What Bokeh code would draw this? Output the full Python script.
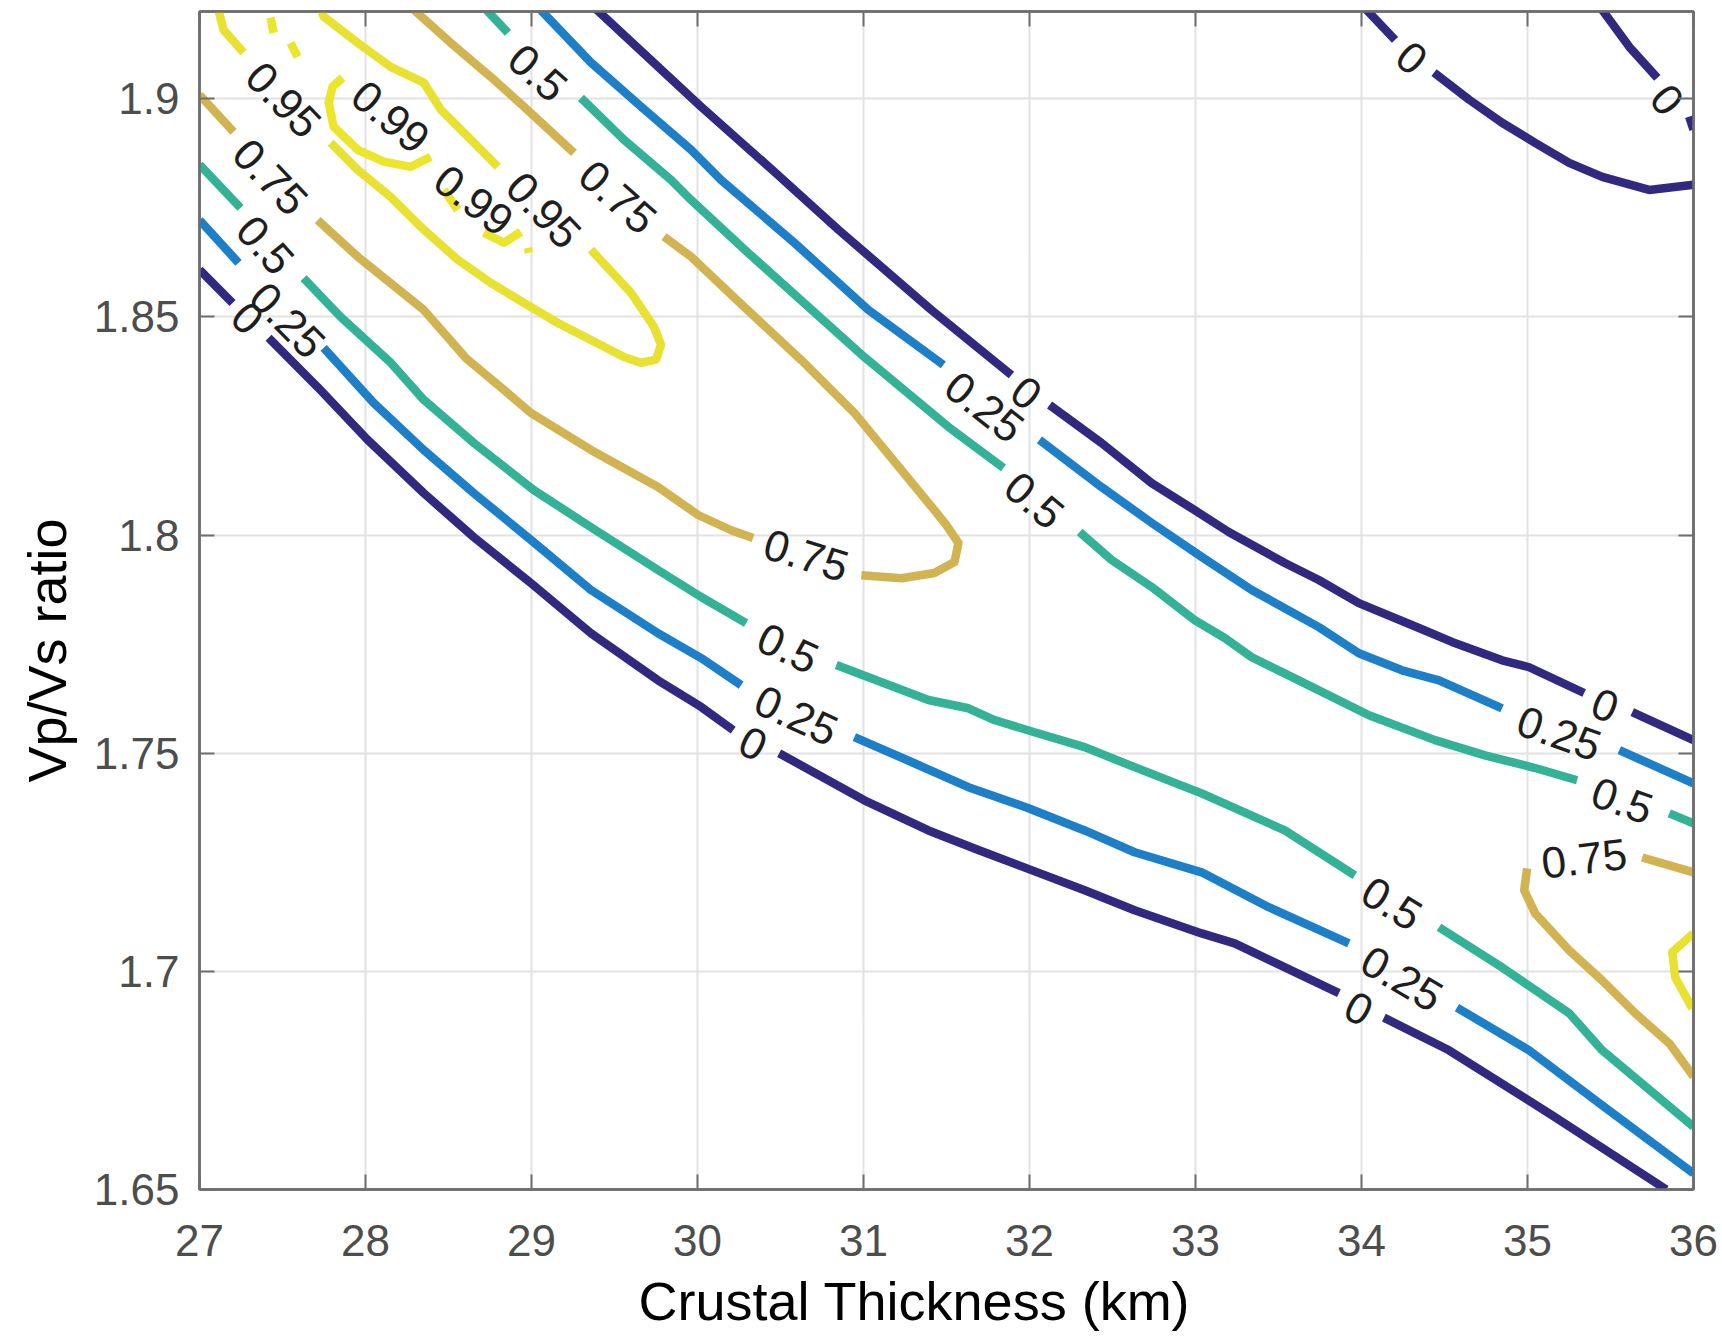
from bokeh.plotting import figure
from bokeh.models import Range1d, FixedTicker, LinearAxis, Title
from bokeh.embed import file_html
from bokeh.resources import INLINE
from bokeh.core.properties import value

# ---------------- data ----------------
x_ticks = [27, 28, 29, 30, 31, 32, 33, 34, 35, 36]
y_ticks = [1.65, 1.7, 1.75, 1.8, 1.85, 1.9]
y_tick_labels = ["1.65", "1.7", "1.75", "1.8", "1.85", "1.9"]
x_title = "Crustal Thickness (km)"
y_title = "Vp/Vs ratio"

levels = [0, 0.25, 0.5, 0.75, 0.95, 0.99]

# contour level 0 (pieces between in-line labels)
c000_x = [
    [27.0, 27.199],
    [27.416, 27.712, 28.013, 28.351, 28.653, 28.996, 29.358, 29.762, 30.022, 30.215],
    [30.492, 31.005, 31.391, 31.692, 32.012, 32.332, 32.633, 33.037, 33.236, 33.864],
    [34.135, 34.527, 35.149, 35.836],
    [29.376, 30.021, 30.462, 30.848, 31.409, 31.891],
    [32.121, 32.434, 32.736, 32.995, 33.200, 33.538, 33.743, 33.984, 34.346, 34.545, 34.847, 35.010, 35.341],
    [35.631, 36.0],
    [34.015, 34.202],
    [34.437, 34.648, 34.847, 35.046, 35.251, 35.450, 35.733, 36.0],
    [35.438, 35.613, 35.782],
    [35.974, 36.0],
]
c000_y = [
    [1.8608, 1.8532],
    [1.8452, 1.8339, 1.8218, 1.8096, 1.7995, 1.7890, 1.7775, 1.7667, 1.7606, 1.7553],
    [1.7500, 1.7392, 1.7323, 1.7278, 1.7232, 1.7186, 1.7140, 1.7087, 1.7064, 1.6950],
    [1.6894, 1.6819, 1.6670, 1.6500],
    [1.9210, 1.8982, 1.8833, 1.8700, 1.8516, 1.8367],
    [1.8298, 1.8211, 1.8119, 1.8057, 1.8007, 1.7936, 1.7897, 1.7844, 1.7787, 1.7755, 1.7713, 1.7697, 1.7638],
    [1.7594, 1.7530],
    [1.9210, 1.9135],
    [1.9060, 1.8998, 1.8945, 1.8899, 1.8853, 1.8821, 1.8791, 1.8803],
    [1.9210, 1.9119, 1.9048],
    [1.8959, 1.8929],
]

# contour level 0.25
c025_x = [
    [27.0, 27.235],
    [27.748, 28.049, 28.351, 28.653, 28.996, 29.358, 29.762, 30.022, 30.263],
    [30.945, 31.306, 31.632, 31.994, 32.332, 32.633, 33.037, 33.441, 33.924],
    [34.575, 35.010, 35.450, 36.0],
    [29.039, 29.358, 29.660, 29.961, 30.142, 30.583, 31.029, 31.481],
    [32.060, 32.434, 32.736, 33.037, 33.339, 33.743, 33.984, 34.244, 34.467, 34.847],
    [35.553, 36.0],
]
c025_y = [
    [1.8722, 1.8624],
    [1.8429, 1.8303, 1.8195, 1.8096, 1.7989, 1.7874, 1.7775, 1.7718, 1.7656],
    [1.7537, 1.7477, 1.7422, 1.7374, 1.7323, 1.7273, 1.7227, 1.7147, 1.7064],
    [1.6917, 1.6819, 1.6693, 1.6537],
    [1.9210, 1.9083, 1.8982, 1.8883, 1.8814, 1.8670, 1.8516, 1.8390],
    [1.8218, 1.8110, 1.8028, 1.7950, 1.7874, 1.7789, 1.7729, 1.7690, 1.7667, 1.7603],
    [1.7507, 1.7431],
]

# contour level 0.5
c050_x = [
    [27.0, 27.247],
    [27.627, 27.850, 28.152, 28.351, 28.653, 29.014, 29.358, 29.762, 30.022, 30.293],
    [30.836, 31.391, 31.632, 31.789, 32.030, 32.332, 32.633, 33.037, 33.538, 33.960],
    [34.467, 34.847, 35.251, 35.450, 36.0],
    [28.713, 28.858],
    [29.298, 29.557, 29.841, 29.961, 30.305, 31.005, 31.511, 31.843],
    [32.302, 32.495, 32.736, 32.995, 33.176, 33.339, 33.622, 34.045, 34.443, 34.744, 35.046, 35.299],
    [35.854, 36.0],
]
c050_y = [
    [1.8849, 1.8750],
    [1.8589, 1.8500, 1.8395, 1.8310, 1.8211, 1.8103, 1.8018, 1.7920, 1.7858, 1.7798],
    [1.7702, 1.7622, 1.7603, 1.7576, 1.7548, 1.7514, 1.7468, 1.7408, 1.7323, 1.7220],
    [1.7101, 1.7009, 1.6904, 1.6819, 1.6644],
    [1.9210, 1.9151],
    [1.9002, 1.8906, 1.8814, 1.8768, 1.8647, 1.8408, 1.8248, 1.8154],
    [1.8007, 1.7943, 1.7881, 1.7805, 1.7764, 1.7720, 1.7667, 1.7587, 1.7530, 1.7495, 1.7466, 1.7438],
    [1.7362, 1.7339],
]

# contour level 0.75
c075_x = [
    [27.0, 27.205],
    [27.712, 27.953, 28.351, 28.604, 28.815, 28.996, 29.358, 29.762, 30.004, 30.203, 30.335],
    [30.987, 31.228, 31.427, 31.548, 31.572, 31.499, 31.427, 31.228, 30.945, 30.625, 30.281, 29.961, 29.798],
    [29.256, 28.954, 28.755, 28.514, 28.273],
    [35.691, 36.0],
    [34.998, 34.980, 35.046, 35.251, 35.450, 35.649, 35.854, 36.0],
]
c075_y = [
    [1.9009, 1.8924],
    [1.8722, 1.8638, 1.8516, 1.8406, 1.8339, 1.8280, 1.8195, 1.8110, 1.8046, 1.8011, 1.7993],
    [1.7908, 1.7901, 1.7913, 1.7938, 1.7982, 1.8023, 1.8057, 1.8149, 1.8280, 1.8401, 1.8523, 1.8638, 1.8684],
    [1.8876, 1.8982, 1.9050, 1.9128, 1.9210],
    [1.7261, 1.7227],
    [1.7236, 1.7186, 1.7133, 1.7048, 1.6979, 1.6904, 1.6835, 1.6759],
]

# contour level 0.95
c095_x = [
    [27.109, 27.145, 27.265],
    [27.790, 27.953, 28.152, 28.351, 28.556, 28.755, 28.954, 29.159, 29.358, 29.557,
     29.660, 29.750, 29.780, 29.738, 29.600, 29.358],
    [28.797, 28.653, 28.454, 28.351, 28.152, 27.953, 27.748, 27.730],
    [36.0, 35.872, 35.890, 35.993],
]
c095_y = [
    [1.9210, 1.9158, 1.9106],
    [1.8899, 1.8837, 1.8775, 1.8700, 1.8631, 1.8578, 1.8532, 1.8486, 1.8447, 1.8408,
     1.8395, 1.8402, 1.8436, 1.8477, 1.8555, 1.8654],
    [1.8844, 1.8899, 1.8975, 1.9037, 1.9073, 1.9128, 1.9188, 1.9210],
    [1.7087, 1.7044, 1.6986, 1.6915],
]

# contour level 0.99
c099_x = [
    [27.428, 27.446],
    [27.549, 27.591],
    [27.862, 27.802, 27.778, 27.808, 27.953, 28.110, 28.273, 28.393],
    [28.472, 28.556],
    [28.713, 28.834, 28.936],
    [28.978, 28.984],
]
c099_y = [
    [1.9186, 1.9151],
    [1.9128, 1.9096],
    [1.9048, 1.9028, 1.8991, 1.8936, 1.8883, 1.8856, 1.8844, 1.8867],
    [1.8791, 1.8745],
    [1.8693, 1.8670, 1.8695],
    [1.8658, 1.8647],
]

# in-line contour labels
label_text = ["0.95", "0.99", "0.99", "0.95", "0.75", "0.5", "0.25", "0",
              "0.75", "0.5", "0.75", "0", "0.25", "0.5", "0.5", "0.25", "0",
              "0", "0.25", "0.5", "0.75", "0.5", "0.25", "0", "0", "0"]
label_x = [27.507, 28.152, 28.653, 29.075, 27.428, 27.398, 27.531, 27.290,
           29.521, 29.039, 30.655, 31.982, 31.729, 32.030, 30.546, 30.595, 30.335,
           35.468, 35.191, 35.571, 35.341, 34.183, 34.244, 33.984, 34.304, 35.842]
label_y = [1.8998, 1.8959, 1.8768, 1.8745, 1.8821, 1.8665, 1.8493, 1.8498,
           1.8775, 1.9060, 1.7954, 1.8326, 1.8294, 1.8080, 1.7741, 1.7587, 1.7523,
           1.7610, 1.7546, 1.7392, 1.7259, 1.7156, 1.6984, 1.6915, 1.9094, 1.8998]
label_angle = [-0.80, -0.70, -0.65, -0.81, -0.81, -0.84, -0.79, -0.77,
               -0.72, -0.73, -0.30, -0.67, -0.66, -0.70, -0.44, -0.43, -0.46,
               -0.38, -0.34, -0.34, 0.12, -0.55, -0.53, -0.49, -0.70, -0.88]

# ---------------- styling ----------------
level_colors = ["#31297f", "#1d7fc8", "#33b296", "#d2b352", "#e8e131", "#ebe52c"]
AX_COLOR = "#6e6e6e"
TICK_LABEL_COLOR = "#4d4d4d"
FONT = "Liberation Sans"

p = figure(width=1722, height=1343,
           x_range=Range1d(27, 36), y_range=Range1d(1.65, 1.92),
           output_backend="svg", toolbar_location=None,
           min_border_left=199, min_border_right=29,
           min_border_top=11, min_border_bottom=154)
p.background_fill_color = "white"
p.border_fill_color = "white"
p.outline_line_color = AX_COLOR
p.outline_line_width = 2.5

xaxis = p.xaxis[0]
yaxis = p.yaxis[0]
xaxis.ticker = FixedTicker(ticks=x_ticks)
yaxis.ticker = FixedTicker(ticks=y_ticks)
yaxis.major_label_overrides = dict(zip(y_ticks, y_tick_labels))

for ax in (xaxis, yaxis):
    ax.axis_line_color = AX_COLOR
    ax.axis_line_width = 2.5
    ax.major_tick_line_color = AX_COLOR
    ax.major_tick_line_width = 2
    ax.major_tick_in = 15
    ax.major_tick_out = 0
    ax.minor_tick_line_color = None
    ax.major_label_text_font = FONT
    ax.major_label_text_font_size = "44px"
    ax.major_label_text_color = TICK_LABEL_COLOR
xaxis.major_label_standoff = 35
yaxis.major_label_standoff = 20

# box ticks on the top and right sides (no labels)
for loc, ticks in (("above", x_ticks), ("right", y_ticks)):
    ax = LinearAxis(ticker=FixedTicker(ticks=ticks),
                    major_label_text_font_size="1px", major_label_text_color=None,
                    major_label_text_alpha=0, major_label_standoff=0,
                    major_tick_in=15, major_tick_out=0,
                    major_tick_line_color=AX_COLOR, major_tick_line_width=2,
                    minor_tick_line_color=None,
                    axis_line_color=AX_COLOR, axis_line_width=2.5)
    p.add_layout(ax, loc)

# axis titles as side-panel titles so they can sit off-centre like the reference
p.add_layout(Title(text=x_title, align="left", offset=439, standoff=20,
                   text_font=FONT, text_font_size="54px", text_font_style="normal",
                   text_color="#000000"), "below")
p.add_layout(Title(text=y_title, align="left", offset=407, standoff=27,
                   text_font=FONT, text_font_size="54px", text_font_style="normal",
                   text_color="#000000"), "left")

p.xgrid.ticker = FixedTicker(ticks=x_ticks)
p.ygrid.ticker = FixedTicker(ticks=y_ticks)
p.grid.grid_line_color = "#e2e2e2"
p.grid.grid_line_width = 2

all_x = [c000_x, c025_x, c050_x, c075_x, c095_x, c099_x]
all_y = [c000_y, c025_y, c050_y, c075_y, c095_y, c099_y]
for xs, ys, col in zip(all_x, all_y, level_colors):
    p.multi_line(xs=xs, ys=ys, line_color=col, line_width=8.5,
                 line_join="round", line_cap="butt")

p.text(x=label_x, y=label_y, text=label_text, angle=label_angle,
       text_font=value(FONT), text_font_size="44px",
       text_align="center", text_baseline="middle", text_color="#1e1e1e")

open("out.html", "w").write(file_html(p, INLINE))
